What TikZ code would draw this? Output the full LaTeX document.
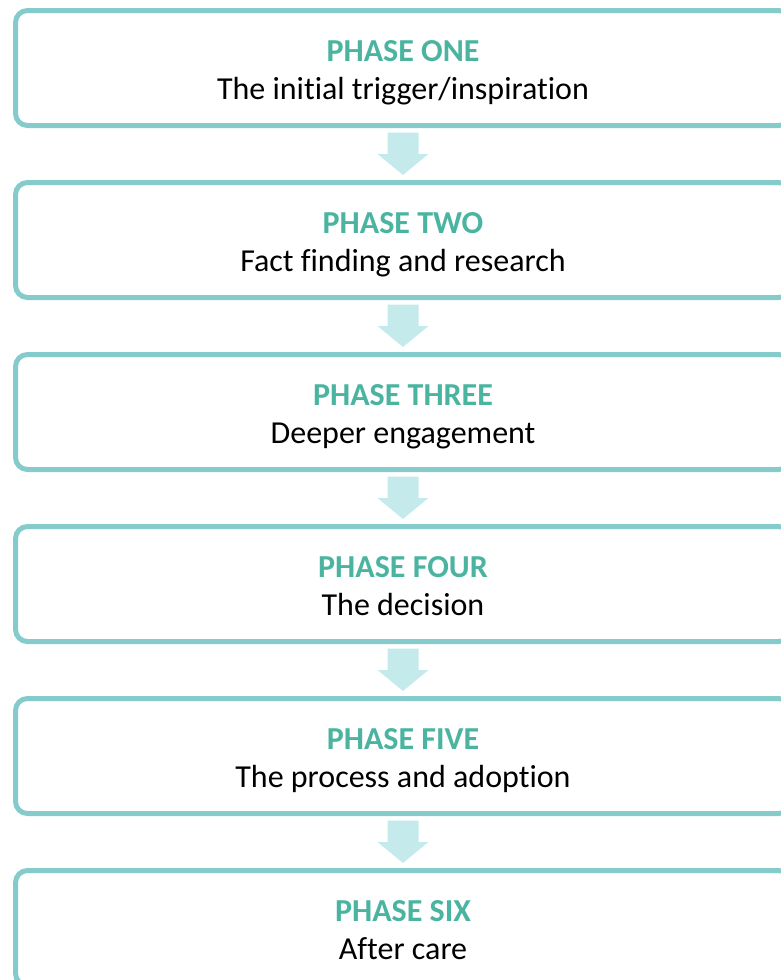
\documentclass[tikz,border=0pt]{standalone}
\usepackage{fontspec}
\setmainfont[Ligatures=NoCommon]{Carlito}
\definecolor{boxline}{HTML}{86CBCC}
\definecolor{arrowfill}{HTML}{C5EAEC}
\definecolor{titlecol}{HTML}{4AB4A0}
\tikzset{
  phasebox/.style={draw=boxline, line width=5pt, rounded corners=12pt, minimum width=775pt, minimum height=115pt, outer sep=0pt, inner sep=0pt},
  titletext/.style={anchor=base, text=titlecol, font=\fontsize{32}{38}\selectfont\bfseries, inner sep=0pt},
  subtext/.style={anchor=base, text=black, font=\fontsize{32}{38}\selectfont, inner sep=0pt},
  blockarrow/.style={fill=arrowfill, draw=none}
}
\begin{document}
\begin{tikzpicture}[x=1pt,y=-1pt]
\useasboundingbox (0,0) rectangle (781,980);
\clip (0,0) rectangle (781,980);
\foreach \i/\t/\s in {1/PHASE ONE/The initial trigger\slash inspiration,2/PHASE TWO/Fact finding and research,3/PHASE THREE/Deeper engagement,4/PHASE FOUR/The decision,5/PHASE FIVE/The process and adoption,6/PHASE SIX/After care}{
  \node[phasebox] (b\i) at (403,{68+172*(\i-1)}) {};
  \node[titletext] (t\i) at ([yshift=6.5pt]b\i.center) {\t};
  \node[subtext] (s\i) at ([yshift=-31pt]b\i.center) {\s};
}
\foreach \i in {1,...,5}{
  \fill[blockarrow] ([shift={(-15.5,7)}]b\i.south) -- ([shift={(15.5,7)}]b\i.south)
    -- ([shift={(15.5,28.5)}]b\i.south) -- ([shift={(25.5,28.5)}]b\i.south)
    -- ([shift={(0,49.5)}]b\i.south) -- ([shift={(-25.5,28.5)}]b\i.south)
    -- ([shift={(-15.5,28.5)}]b\i.south) -- cycle;
}
\end{tikzpicture}
\end{document}
